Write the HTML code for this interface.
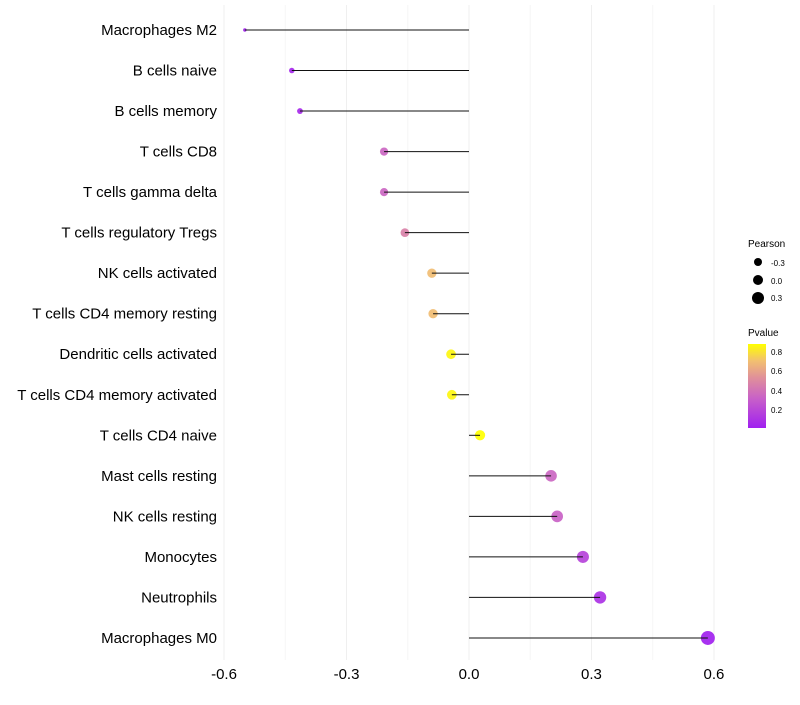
<!DOCTYPE html>
<html><head><meta charset="utf-8"><style>
body{margin:0;background:#fff;font-family:"Liberation Sans",sans-serif}
svg text{font-family:"Liberation Sans",sans-serif}
</style></head><body>
<svg id="chart" width="800" height="700">
<defs><linearGradient id="pg" x1="0" y1="1" x2="0" y2="0">
<stop offset="0" stop-color="#A020F0"/><stop offset="0.35" stop-color="#C860C8"/>
<stop offset="0.6" stop-color="#E0909A"/><stop offset="0.8" stop-color="#F2C070"/><stop offset="1" stop-color="#FFFF00"/>
</linearGradient></defs>
<g id="grid"></g><g id="points"></g><g id="marks"></g><g id="labels"></g>
<g>
<text x="748" y="247" font-size="10">Pearson</text>
<circle cx="758" cy="262" r="4" fill="#000"/><text x="771" y="266" font-size="8">-0.3</text>
<circle cx="758" cy="280" r="5" fill="#000"/><text x="771" y="284" font-size="8">0.0</text>
<circle cx="758" cy="298" r="6" fill="#000"/><text x="771" y="301" font-size="8">0.3</text>
<text x="748" y="336" font-size="10">Pvalue</text>
<rect x="748" y="344" width="18" height="84" fill="url(#pg)"/>
<text x="771" y="355" font-size="8">0.8</text><text x="771" y="374" font-size="8">0.6</text>
<text x="771" y="394" font-size="8">0.4</text><text x="771" y="413" font-size="8">0.2</text>
</g>
</svg>
<script>
const categories=["Macrophages M2","B cells naive","B cells memory","T cells CD8","T cells gamma delta","T cells regulatory  Tregs ","NK cells activated","T cells CD4 memory resting","Dendritic cells activated","T cells CD4 memory activated","T cells CD4 naive","Mast cells resting","NK cells resting","Monocytes","Neutrophils","Macrophages M0"];
const pearson=[-0.549,-0.434,-0.414,-0.208,-0.208,-0.157,-0.091,-0.088,-0.044,-0.042,0.027,0.201,0.216,0.279,0.321,0.585];
const pvalues=[0.03,0.05,0.06,0.35,0.35,0.47,0.7,0.7,0.86,0.86,0.9,0.35,0.33,0.18,0.1,0.02];
const ticks=[-0.6,-0.3,0,0.3,0.6];
const tickLabels=["-0.6","-0.3","0.0","0.3","0.6"];
const NS="http://www.w3.org/2000/svg";
const x=v=>469+v*408.3;
const y=i=>30+i*40.53;
const rad=v=>Math.sqrt(3+40.5*Math.max(0,v+0.55));
const stops=[[0,[160,32,240]],[0.35,[200,96,200]],[0.6,[224,144,154]],[0.8,[242,192,112]],[1,[255,255,0]]];
function col(p){const t=Math.min(1,Math.max(0,(p-0.015)/0.87));
for(let k=1;k<stops.length;k++){if(t<=stops[k][0]){const a=stops[k-1],b=stops[k],f=(t-a[0])/(b[0]-a[0]);
return 'rgb('+a[1].map((c,j)=>Math.round(c+(b[1][j]-c)*f)).join(',')+')';}}return 'rgb(255,255,0)';}
function mk(tag,at,par){const e=document.createElementNS(NS,tag);for(const k in at)e.setAttribute(k,at[k]);document.getElementById(par).appendChild(e);return e;}
ticks.forEach((t,i)=>{
 const g=mk('line',{x1:x(t),x2:x(t),y1:5,y2:660,stroke:'#efefef','stroke-width':1},'grid');
 
 
 if(i<ticks.length-1){const m=mk('line',{x1:x(t+0.15),x2:x(t+0.15),y1:5,y2:660,stroke:'#f6f6f6','stroke-width':1},'grid');
 
 }
 const tx=mk('text',{x:x(t),y:679,'font-size':15,'text-anchor':'middle',fill:'#000'},'labels');
 tx.textContent=tickLabels[i];
 
 
});
categories.forEach((c,i)=>{
 const d=mk('circle',{cx:x(pearson[i]),cy:y(i),r:rad(pearson[i]),fill:col(pvalues[i]),'fill-opacity':0.92},'points');
 
 
 const l=mk('line',{x1:x(0),x2:x(pearson[i]),y1:y(i),y2:y(i),stroke:'#111','stroke-width':1},'marks');
 
 
 const t=mk('text',{x:217,y:y(i)+5,'font-size':15,'text-anchor':'end',fill:'#000'},'labels');
 t.textContent=c;
 
 
});
</script>
</body></html>
